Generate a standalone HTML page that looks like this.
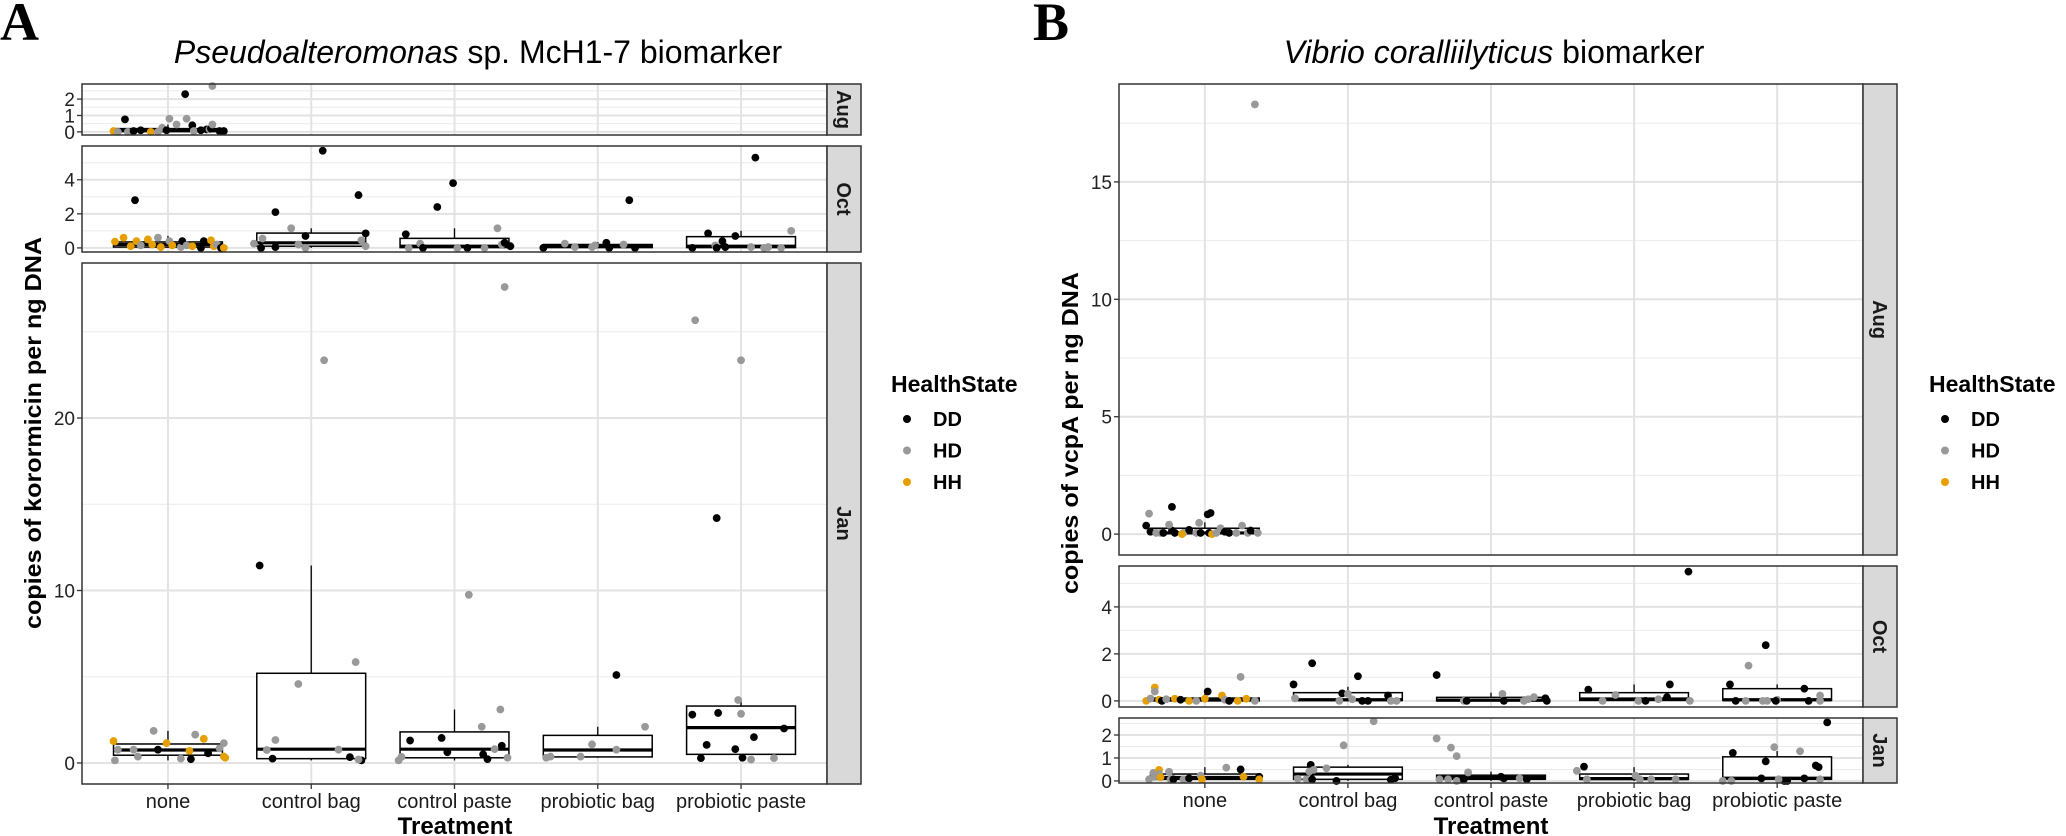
<!DOCTYPE html>
<html><head><meta charset="utf-8">
<style>
html,body{margin:0;padding:0;background:#fff;}
svg{display:block;font-family:"Liberation Sans",Arial,sans-serif;}
</style></head>
<body>
<svg id="chart" width="2066" height="836" viewBox="0 0 2066 836" xmlns="http://www.w3.org/2000/svg">
<text x="0" y="40" font-family="Liberation Serif,serif" font-weight="bold" font-size="54">A</text>
<text x="1033" y="40" font-family="Liberation Serif,serif" font-weight="bold" font-size="54">B</text>
<text x="478" y="63" text-anchor="middle" font-size="32" fill="#000"><tspan font-style="italic">Pseudoalteromonas</tspan> sp. McH1-7 biomarker</text>
<text x="1494" y="63" text-anchor="middle" font-size="32" fill="#000"><tspan font-style="italic">Vibrio coralliilyticus</tspan> biomarker</text>
<text transform="translate(41,433) rotate(-90)" text-anchor="middle" font-size="23" font-weight="bold" textLength="392" lengthAdjust="spacingAndGlyphs">copies of korormicin per ng DNA</text>
<text transform="translate(1078,433) rotate(-90)" text-anchor="middle" font-size="23" font-weight="bold" textLength="322" lengthAdjust="spacingAndGlyphs">copies of vcpA per ng DNA</text>
<text x="455" y="834" text-anchor="middle" font-size="24" font-weight="bold">Treatment</text>
<text x="1491" y="834" text-anchor="middle" font-size="24" font-weight="bold">Treatment</text>
</svg>
<script>
const categories = ["none","control bag","control paste","probiotic bag","probiotic paste"];
const stateNames = ["DD","HD","HH"];
const stateColors = {DD:"#000000",HD:"#999999",HH:"#E69F00"};
const months = ["Aug","Oct","Jan"];

// points: "category-index offset value state"
const ptsA_Aug = ["0 -0.38 0.05 HH","0 -0.35 0 HD","0 -0.30 0.76 DD","0 -0.28 0 HD","0 -0.24 0.05 DD","0 -0.19 0.1 DD","0 -0.12 0 HH","0 -0.07 0 HD","0 -0.04 0.25 HD","0 -0.01 0.1 DD","0 0.01 0.8 HD","0 0.06 0.45 HD","0 0.12 2.3 DD","0 0.13 0.8 HD","0 0.17 0.4 DD","0 0.18 0.05 HD","0 0.23 0.1 DD","0 0.27 0.15 DD","0 0.29 0.15 HD","0 0.30 0.2 DD","0 0.31 0.45 HD","0 0.31 2.8 HD","0 0.36 0.05 DD","0 0.39 0.05 DD"];
const ptsA_Oct = ["0 -0.23 2.8 DD","0 -0.37 0.37 HH","0 -0.31 0.6 HH","0 -0.26 0.1 HH","0 -0.22 0.4 HH","0 -0.19 0.15 HD","0 -0.14 0.5 HH","0 -0.07 0.6 HD","0 -0.11 0.2 HH","0 -0.05 0.05 HH","0 0.01 0.4 HD","0 0.03 0.15 HH","0 0.09 0.05 HD","0 0.10 0.4 DD","0 0.13 0.15 HD","0 0.17 0.1 HH","0 0.23 0 DD","0 0.25 0.4 DD","0 0.30 0.45 HH","0 0.32 0.1 HH","0 0.34 0.2 HD","0 0.37 0 DD","0 0.39 0 HH",
"1 -0.40 0.25 HD","1 -0.34 0.55 HD","1 -0.35 0 DD","1 -0.25 2.1 DD","1 -0.25 0.05 DD","1 -0.14 1.15 HD","1 -0.09 0.2 HD","1 -0.04 0.7 DD","1 -0.04 0 HD","1 0.08 5.7 DD","1 0.33 3.1 DD","1 0.35 0.45 HD","1 0.38 0.85 DD","1 0.38 0.1 HD",
"2 -0.34 0.8 DD","2 -0.32 0 HD","2 -0.24 0.25 HD","2 -0.22 0 DD","2 -0.12 2.4 DD","2 -0.01 3.8 DD","2 0.02 0 HD","2 0.09 0 DD","2 0.21 0 HD","2 0.30 1.15 HD","2 0.33 0.2 HD","2 0.35 0.3 DD","2 0.39 0.1 DD",
"3 -0.38 0 DD","3 -0.23 0.25 HD","3 -0.16 0.05 HD","3 -0.04 0.05 HD","3 -0.02 0.15 HD","3 0.06 0.3 DD","3 0.08 0 DD","3 0.18 0.2 HD","3 0.22 2.8 DD","3 0.26 0 DD",
"4 -0.34 0 DD","4 -0.23 0.85 DD","4 -0.18 0.15 HD","4 -0.17 0 DD","4 -0.13 0.4 DD","4 -0.11 0.05 DD","4 -0.04 0.7 DD","4 0.10 5.3 DD","4 0.07 0.05 HD","4 0.16 0 HD","4 0.19 0.05 HD","4 0.28 0 HD","4 0.35 1.0 HD"];
const ptsA_Jan = ["0 -0.38 1.27 HH","0 -0.37 0.15 HD","0 -0.35 0.77 HD","0 -0.24 0.77 HD","0 -0.21 0.37 HD","0 -0.10 1.86 HD","0 -0.07 0.77 DD","0 -0.01 1.15 HH","0 0.09 0.25 HD","0 0.16 0.22 DD","0 0.15 0.7 HH","0 0.19 1.64 HD","0 0.25 1.4 HH","0 0.28 0.56 DD","0 0.36 0.85 HD","0 0.39 0.37 HH","0 0.39 1.15 HD","0 0.40 0.3 HH",
"1 -0.36 11.45 DD","1 -0.31 0.75 HD","1 -0.27 0.25 DD","1 -0.25 1.33 HD","1 -0.09 4.58 HD","1 0.09 23.35 HD","1 0.19 0.77 HD","1 0.27 0.34 DD","1 0.31 5.85 HD","1 0.35 0.15 DD","1 0.33 0.2 HD",
"2 -0.39 0.15 HD","2 -0.37 0.35 HD","2 -0.31 1.3 DD","2 -0.09 1.45 DD","2 -0.05 0.62 DD","2 0.10 9.75 HD","2 0.19 2.1 HD","2 0.20 0.5 DD","2 0.23 0.22 DD","2 0.28 0.8 HD","2 0.32 3.1 HD","2 0.33 1.0 DD","2 0.35 27.6 HD","2 0.37 0.3 HD",
"3 -0.36 0.3 HD","3 -0.33 0.37 HD","3 -0.12 0.37 HD","3 -0.04 1.08 HD","3 0.13 0.77 HD","3 0.13 5.1 DD","3 0.33 2.1 HD",
"4 -0.32 25.67 HD","4 -0.34 2.8 DD","4 -0.28 0.28 DD","4 -0.24 1.05 DD","4 -0.17 14.2 DD","4 -0.16 2.9 DD","4 -0.04 0.8 DD","4 -0.02 3.65 HD","4 0.00 23.35 HD","4 0.00 2.85 HD","4 0.01 0.3 DD","4 0.07 0.2 HD","4 0.09 1.5 DD","4 0.23 0.28 HD","4 0.30 2.0 DD"];
const ptsB_Aug = ["0 -0.41 0.36 DD","0 -0.39 0.87 HD","0 -0.38 0.1 DD","0 -0.34 0.05 HD","0 -0.31 0.05 HD","0 -0.29 0.05 DD","0 -0.23 1.16 DD","0 -0.23 0.15 DD","0 -0.21 0.05 DD","0 -0.25 0.4 HD","0 -0.15 0.05 HD","0 -0.11 0.18 DD","0 -0.16 0 HH","0 -0.06 0.05 HD","0 -0.03 0.05 DD","0 -0.04 0.48 HD","0 0.02 0.84 DD","0 0.04 0.9 DD","0 0.03 0.05 DD","0 0.05 0 HH","0 0.08 0.05 HD","0 0.11 0.25 HD","0 0.14 0.1 DD","0 0.17 0.05 DD","0 0.22 0.05 HD","0 0.26 0.36 HD","0 0.30 0.05 HD","0 0.32 0.15 DD","0 0.35 18.3 HD","0 0.37 0.05 HD"];
const ptsB_Oct = ["0 -0.41 0 HH","0 -0.35 0.57 HH","0 -0.35 0.4 HD","0 -0.38 0.1 HD","0 -0.32 0.05 HH","0 -0.30 0 DD","0 -0.27 0.07 HD","0 -0.21 0.09 HH","0 -0.17 0.05 DD","0 -0.11 0 HH","0 -0.06 0 HD","0 0.00 0.09 HH","0 0.02 0.4 DD","0 0.12 0.23 HH","0 0.14 0.05 HD","0 0.17 0 DD","0 0.23 0 HH","0 0.25 1.02 HD","0 0.29 0.09 HH","0 0.35 0 HD",
"1 -0.38 0.7 DD","1 -0.37 0.11 HD","1 -0.25 1.6 DD","1 -0.04 0.32 DD","1 0.00 0.3 HD","1 0.03 0.07 HD","1 0.07 1.05 DD","1 0.10 0 DD","1 0.14 0 DD","1 0.28 0.23 DD","1 0.30 0 HD","1 0.34 0 HD","1 -0.06 0 HD",
"2 -0.38 1.1 DD","2 -0.19 0 HD","2 -0.17 0 DD","2 0.08 0.3 HD","2 0.09 0 DD","2 0.23 0 HD","2 0.26 0.07 HD","2 0.30 0.16 HD","2 0.38 0.11 DD","2 0.39 0 DD",
"3 -0.32 0.48 DD","3 -0.22 0 HD","3 -0.13 0.25 HD","3 0.03 0 HD","3 0.08 0 DD","3 0.17 0.07 HD","3 0.23 0.16 DD","3 0.25 0.7 DD","3 0.39 0 HD","3 0.38 5.5 DD",
"4 -0.33 0.7 DD","4 -0.29 0 DD","4 -0.22 0 HD","4 -0.20 1.5 HD","4 -0.08 2.37 DD","4 -0.10 0 HD","4 -0.07 0 HD","4 0.00 0.05 HD","4 -0.01 0 DD","4 0.19 0.52 DD","4 0.22 0 DD","4 0.30 0.23 HD","4 0.30 0 HD"];
const ptsB_Jan = ["0 -0.39 0.07 HD","0 -0.36 0.35 HD","0 -0.35 0.18 HD","0 -0.32 0.48 HH","0 -0.32 0.3 HD","0 -0.31 0.16 HH","0 -0.25 0.4 HD","0 -0.24 0.07 HD","0 -0.22 0.07 DD","0 -0.15 0.07 HD","0 -0.11 0.11 DD","0 -0.03 0.23 HD","0 -0.02 0.07 HH","0 0.15 0.58 HD","0 0.25 0.5 DD","0 0.27 0.18 HH","0 0.38 0.18 DD","0 0.38 0.07 HH",
"1 -0.35 0.09 HD","1 -0.26 0.7 DD","1 -0.27 0.41 HD","1 -0.24 0.48 HD","1 -0.15 0.55 HD","1 -0.29 0.07 HD","1 -0.25 0.07 DD","1 -0.08 0 DD","1 -0.03 1.55 HD","1 0.18 2.6 HD","1 0.30 0.05 DD","1 0.33 0.12 DD",
"2 -0.38 1.85 HD","2 -0.36 0.07 HD","2 -0.28 1.45 HD","2 -0.30 0.07 HD","2 -0.24 1.08 HD","2 -0.22 0.07 DD","2 -0.24 0 HD","2 -0.19 0.07 DD","2 -0.16 0.37 HD","2 0.07 0.18 DD","2 0.09 0.11 DD","2 0.20 0.11 HD","2 0.25 0.07 DD",
"3 -0.40 0.44 HD","3 -0.35 0.62 DD","3 -0.33 0.07 HD","3 0.01 0.23 HD","3 0.04 0.07 HD","3 0.12 0.07 HD","3 0.29 0.07 HD",
"4 -0.38 0 HD","4 -0.31 1.22 DD","4 -0.32 0 HD","4 -0.11 0.11 DD","4 -0.08 0.85 DD","4 -0.02 1.47 HD","4 0.05 0 DD","4 0.01 0.07 HD","4 0.07 0 DD","4 0.16 1.29 HD","4 0.19 0.11 DD","4 0.27 0.67 DD","4 0.29 0.6 DD","4 0.30 0.07 HD","4 0.35 2.55 DD"];

// box stats per category: [lower whisker, q1, median, q3, upper whisker]
const boxA_Aug = [[0,0.02,0.08,0.2,0.45],null,null,null,null];
const boxA_Oct = [[0,0.05,0.2,0.35,0.7],[0,0.1,0.3,0.87,1.15],[0,0.02,0.1,0.56,1.15],[0,0.02,0.1,0.2,0.35],[0,0.02,0.1,0.66,1.0]];
const boxA_Jan = [[0.15,0.45,0.75,1.1,1.86],[0.15,0.25,0.8,5.2,11.45],[0.15,0.3,0.8,1.8,3.1],[0.3,0.35,0.75,1.6,2.1],[0.1,0.5,2.05,3.3,3.65]];
const boxB_Aug = [[0,0.02,0.05,0.25,0.5],null,null,null,null];
const boxB_Oct = [[0,0,0.05,0.12,0.3],[0,0.02,0.05,0.35,0.6],[0,0,0.03,0.15,0.35],[0,0.02,0.08,0.35,0.7],[0,0.02,0.05,0.52,0.7]];
const boxB_Jan = [[0,0.07,0.15,0.3,0.6],[0,0.07,0.3,0.6,0.7],[0,0.07,0.15,0.25,0.4],[0,0.07,0.1,0.3,0.6],[0,0.07,0.12,1.05,1.3]];

// y-axis domains and ticks
const domA_Aug = [-0.19,2.92], ticksA_Aug = [0,1,2];
const domA_Oct = [-0.24,5.98], ticksA_Oct = [0,2,4];
const domA_Jan = [-1.22,28.99], ticksA_Jan = [0,10,20];
const domB_Aug = [-0.89,19.17], ticksB_Aug = [0,5,10,15];
const domB_Oct = [-0.26,5.74], ticksB_Oct = [0,2,4];
const domB_Jan = [-0.09,2.74], ticksB_Jan = [0,1,2];

const NS = "http://www.w3.org/2000/svg";
const svg = document.getElementById("chart");
function mk(tag, attrs, parent){
  const e = document.createElementNS(NS, tag);
  for (const k in attrs) e.setAttribute(k, attrs[k]);
  (parent||svg).appendChild(e);
  return e;
}

function drawFacet(prefix, month, left, right, top, bottom, dom, ticks, pts, boxes, showX){
  const g = mk("g", {});
  
  
  const xs = c => left + (c + 1 - 0.4) / 5.2 * (right - left);
  const ys = v => bottom - (v - dom[0]) / (dom[1] - dom[0]) * (bottom - top);
  const step = ticks[1] - ticks[0];
  for (let v = ticks[0] - step/2; v <= dom[1]; v += step) {
    if (v < dom[0]) continue;
    const l = mk("line", {x1:left, x2:right, y1:ys(v), y2:ys(v), stroke:"#EBEBEB", "stroke-width":1}, g);
    
    
  }
  ticks.forEach(v => {
    const l = mk("line", {x1:left, x2:right, y1:ys(v), y2:ys(v), stroke:"#E3E3E3", "stroke-width":2}, g);
    
    
    const t = mk("line", {x1:left-5, x2:left, y1:ys(v), y2:ys(v), stroke:"#333", "stroke-width":1.3}, g);
    
    
    const tx = mk("text", {x:left-7, y:ys(v)+7, "text-anchor":"end", "font-size":19, fill:"#222"}, g);
    tx.textContent = String(v);
    
    
  });
  categories.forEach((c, i) => {
    const l = mk("line", {x1:xs(i), x2:xs(i), y1:top, y2:bottom, stroke:"#E3E3E3", "stroke-width":2}, g);
    
    
  });
  boxes.forEach((b, i) => {
    if (!b) return;
    const bw = 0.38 / 5.2 * (right - left);
    const cx = xs(i);
    const bg = mk("g", {stroke:"#000", fill:"none"}, g);
    
    
    mk("line", {x1:cx, x2:cx, y1:ys(b[3]), y2:ys(b[4]), "stroke-width":1.3}, bg);
    mk("line", {x1:cx, x2:cx, y1:ys(b[1]), y2:ys(b[0]), "stroke-width":1.3}, bg);
    mk("rect", {x:cx-bw, y:ys(b[3]), width:2*bw, height:Math.max(ys(b[1])-ys(b[3]),1), fill:"#fff", "stroke-width":1.5}, bg);
    mk("line", {x1:cx-bw, x2:cx+bw, y1:ys(b[2]), y2:ys(b[2]), "stroke-width":3.2}, bg);
  });
  pts.forEach(s => {
    const p = s.split(" ");
    const c = +p[0], off = +p[1], v = +p[2], st = p[3];
    const d = mk("circle", {cx: xs(c + off), cy: ys(v), r: 3.9, fill: stateColors[st]}, g);
    
    
  });
  const border = mk("rect", {x:left, y:top, width:right-left, height:bottom-top, fill:"none", stroke:"#333", "stroke-width":1.5}, g);
  
  
  const strip = mk("rect", {x:right, y:top, width:34, height:bottom-top, fill:"#D9D9D9", stroke:"#333", "stroke-width":1.5}, g);
  
  
  const stx = mk("text", {transform:"translate("+(right+10)+","+((top+bottom)/2)+") rotate(90)", "text-anchor":"middle", "font-size":20, "font-weight":"bold", fill:"#1a1a1a"}, g);
  stx.textContent = month;
  
  
  if (showX) {
    categories.forEach((c, i) => {
      const t = mk("line", {x1:xs(i), x2:xs(i), y1:bottom, y2:bottom+5, stroke:"#333", "stroke-width":1.3}, g);
      
      
      const tx = mk("text", {x:xs(i), y:bottom+24, "text-anchor":"middle", "font-size":20, fill:"#1a1a1a"}, g);
      tx.textContent = c;
      
      
    });
  }
}

drawFacet("panel-a", months[0], 82, 827, 84, 135, domA_Aug, ticksA_Aug, ptsA_Aug, boxA_Aug, false);
drawFacet("panel-a", months[1], 82, 827, 146, 252, domA_Oct, ticksA_Oct, ptsA_Oct, boxA_Oct, false);
drawFacet("panel-a", months[2], 82, 827, 263, 784, domA_Jan, ticksA_Jan, ptsA_Jan, boxA_Jan, true);
drawFacet("panel-b", months[0], 1119, 1863, 84, 555, domB_Aug, ticksB_Aug, ptsB_Aug, boxB_Aug, false);
drawFacet("panel-b", months[1], 1119, 1863, 566, 707, domB_Oct, ticksB_Oct, ptsB_Oct, boxB_Oct, false);
drawFacet("panel-b", months[2], 1119, 1863, 718, 783, domB_Jan, ticksB_Jan, ptsB_Jan, boxB_Jan, true);

function legend(prefix, x){
  const g = mk("g", {});
  
  
  const t = mk("text", {x:x, y:392, "font-size":23, "font-weight":"bold"}, g);
  t.textContent = "HealthState";
  
  
  stateNames.forEach((s, i) => {
    const y = 419 + i * 31.5;
    const d = mk("circle", {cx:x+16, cy:y, r:4, fill:stateColors[s]}, g);
    
    
    const tx = mk("text", {x:x+42, y:y+7, "font-size":20, "font-weight":"bold"}, g);
    tx.textContent = s;
    
    
  });
}
legend("panel-a", 891);
legend("panel-b", 1929);
</script>
</body></html>
